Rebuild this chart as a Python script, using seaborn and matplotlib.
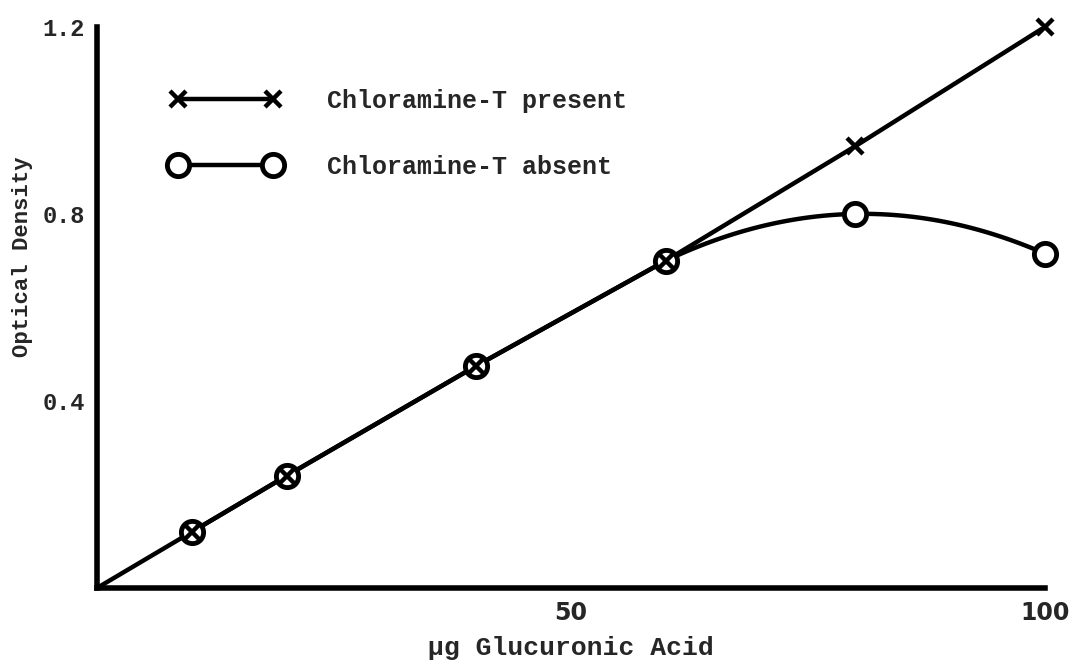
import numpy as np
import pandas as pd
import matplotlib
matplotlib.use("Agg")
import matplotlib.pyplot as plt
import seaborn as sns
from matplotlib.lines import Line2D

# data
glucuronic_present = [0, 10, 20, 40, 60, 80, 100]
od_present = [0.0, 0.12, 0.24, 0.475, 0.70, 0.945, 1.2]

glucuronic_absent = [10, 20, 40, 60, 80, 100]
od_absent = [0.12, 0.24, 0.475, 0.70, 0.80, 0.715]

x_ticks = [50, 100]
y_ticks = [0.4, 0.8, 1.2]

sns.set_style("white")
plt.rcParams['font.family'] = ['Liberation Mono', 'DejaVu Sans Mono']
plt.rcParams['font.weight'] = 'bold'

df_present = pd.DataFrame({"ug": glucuronic_present, "od": od_present})
df_absent = pd.DataFrame({"ug": glucuronic_absent, "od": od_absent})

fig = plt.figure(figsize=(10.79, 6.72), dpi=100)
ax = fig.add_axes([0.0899, 0.125, 0.8786, 0.835])

ink = "black"

# straight line, chloramine-T present
sns.lineplot(data=df_present, x="ug", y="od", ax=ax, color=ink, lw=3.2,
             sort=False, estimator=None)

# absent: straight part up to 60, then a smooth bend through the last three points
straight = df_absent[df_absent.ug <= 60]
sns.lineplot(data=straight, x="ug", y="od", ax=ax, color=ink, lw=3.2,
             sort=False, estimator=None)
tail = df_absent[df_absent.ug >= 60]
coef = np.polyfit(tail.ug, tail.od, 2)
xs = np.linspace(tail.ug.min(), tail.ug.max(), 100)
ax.plot(xs, np.polyval(coef, xs), color=ink, lw=3.2, clip_on=False)

# markers
ax.plot(df_absent.ug, df_absent.od, ls="none", marker="o", ms=16,
        mfc="white", mec=ink, mew=3.5, clip_on=False, zorder=5)
pres_pts = df_present[df_present.ug > 0]
ax.plot(pres_pts.ug, pres_pts.od, ls="none", marker="x", ms=11,
        mec=ink, mew=3.2, clip_on=False, zorder=6)

ax.set_xlim(0, 100)
ax.set_ylim(0, 1.2)
ax.set_xticks(x_ticks)
ax.set_yticks(y_ticks)
ax.set_xticklabels([str(t) for t in x_ticks], fontsize=17, family="DejaVu Sans")
ax.set_yticklabels([f"{t:.1f}" for t in y_ticks], fontsize=17)
ax.tick_params(axis="both", direction="out", length=6, width=3, color=ink, pad=3)

for side in ["top", "right"]:
    ax.spines[side].set_visible(False)
for side in ["left", "bottom"]:
    ax.spines[side].set_linewidth(4)
    ax.spines[side].set_color(ink)

ax.set_xlabel("µg Glucuronic Acid", fontsize=19, fontweight="bold")
ax.xaxis.set_label_coords(0.5, -0.085)
ax.set_ylabel("Optical Density", fontsize=16, fontweight="bold")
ax.yaxis.set_label_coords(-0.068, 0.59)

handles = [
    Line2D([0], [0], color=ink, lw=3.2, marker="x", ms=11, mew=3.2),
    Line2D([0], [0], color=ink, lw=3.2, marker="o", ms=16, mfc="white",
           mec=ink, mew=3.5),
]
ax.legend(handles, ["Chloramine-T present", "Chloramine-T absent"],
          loc="upper left", bbox_to_anchor=(0.054, 0.93), frameon=False,
          numpoints=2, handlelength=4.4, handletextpad=1.85,
          labelspacing=1.7, prop={"size": 18, "weight": "bold"})

fig.savefig("out.png", dpi=100)
